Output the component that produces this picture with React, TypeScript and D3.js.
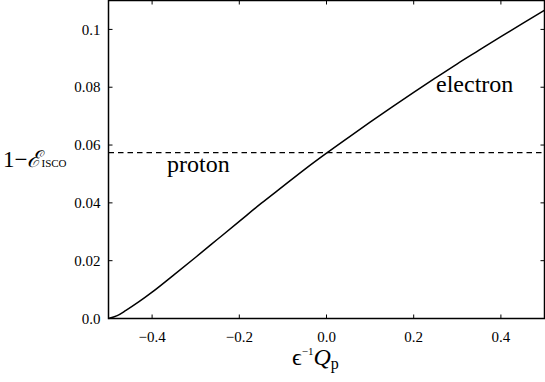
import React from "react";
import * as d3 from "d3";

const W = 545;
const H = 382;

// curve
const qValues = [-0.5, -0.48, -0.46, -0.43, -0.4, -0.35, -0.3, -0.25, -0.2, -0.15, -0.1, -0.05, 0, 0.05, 0.1, 0.15, 0.2, 0.25, 0.3, 0.35, 0.4, 0.45, 0.5];
const energyValues = [0, 0.001, 0.0028, 0.0058, 0.0091, 0.0151, 0.0212, 0.0274, 0.0336, 0.0398, 0.0457, 0.0516, 0.0572, 0.0626, 0.0679, 0.0731, 0.0782, 0.0832, 0.0881, 0.0928, 0.0975, 0.1021, 0.1066];
const protonLevel = 0.0574;

const xTicks = [-0.4, -0.2, 0, 0.2, 0.4];
const xTickLabels = ["\u22120.4", "\u22120.2", "0.0", "0.2", "0.4"];
const yTicks = [0, 0.02, 0.04, 0.06, 0.08, 0.1];
const yTickLabels = ["0.0", "0.02", "0.04", "0.06", "0.08", "0.1"];

const margin = { top: 0.5, right: 0.5, bottom: 63.5, left: 108.5 };
const serif = "Liberation Serif, DejaVu Serif, serif";
const txt = { fontFamily: serif };

export default function App() {
  const x = d3.scaleLinear().domain([-0.5, 0.5]).range([margin.left, W - margin.right]);
  const y = d3.scaleLinear().domain([0, 0.11]).range([H - margin.bottom, margin.top]);

  const line = d3
    .line<number>()
    .x((_, i) => x(qValues[i]))
    .y((d) => y(d))
    .curve(d3.curveMonotoneX);

  const x0 = margin.left;
  const x1 = W - margin.right;
  const y0 = H - margin.bottom;
  const y1 = margin.top;
  const tick = 4;

  return (
    <div style={{ position: "fixed", left: 0, top: 0 }}>
      <svg width={W} height={H} style={{ display: "block", background: "#fff" }}>
        <path d={line(energyValues) || ""} fill="none" stroke="#000" strokeWidth={1.5} />
        <line x1={x0} x2={x1} y1={y(protonLevel)} y2={y(protonLevel)} stroke="#000" strokeWidth={1.2} strokeDasharray="5.5,4" />

        {/* frame with inward ticks on all sides */}
        <rect x={x0} y={y1} width={x1 - x0} height={y0 - y1} fill="none" stroke="#000" strokeWidth={1.5} />
        {xTicks.map((t, i) => (
          <g key={"xt" + i}>
            <line x1={x(t)} x2={x(t)} y1={y0} y2={y0 - tick} stroke="#000" strokeWidth={1} />
            <line x1={x(t)} x2={x(t)} y1={y1} y2={y1 + tick} stroke="#000" strokeWidth={1} />
            <text x={x(t)} y={y0 + 23} textAnchor="middle" style={txt} fontSize={15}>
              {xTickLabels[i]}
            </text>
          </g>
        ))}
        {yTicks.map((t, i) => (
          <g key={"yt" + i}>
            <line x1={x0} x2={x0 + tick} y1={y(t)} y2={y(t)} stroke="#000" strokeWidth={1} />
            <line x1={x1} x2={x1 - tick} y1={y(t)} y2={y(t)} stroke="#000" strokeWidth={1} />
            <text x={x0 - 8} y={y(t)} dy="0.35em" textAnchor="end" style={txt} fontSize={15}>
              {yTickLabels[i]}
            </text>
          </g>
        ))}

        <text x={436} y={92} style={txt} fontSize={24}>electron</text>
        <text x={167} y={172} style={txt} fontSize={24}>proton</text>

        {/* axis titles */}
        <text x={292} y={365} style={txt} fontSize={24}>
          <tspan>{"\u03F5"}</tspan>
          <tspan fontSize={11} dy={-10}>{"\u22121"}</tspan>
          <tspan fontStyle="italic" dy={10}>Q</tspan>
          <tspan fontSize={16} dy={4}>p</tspan>
        </text>
        <text x={3} y={167} style={txt} fontSize={23}>
          <tspan>{"1\u2212"}</tspan>
          <tspan fontStyle="italic">{"\u2130"}</tspan>
          <tspan fontSize={11}>ISCO</tspan>
        </text>
      </svg>
    </div>
  );
}
